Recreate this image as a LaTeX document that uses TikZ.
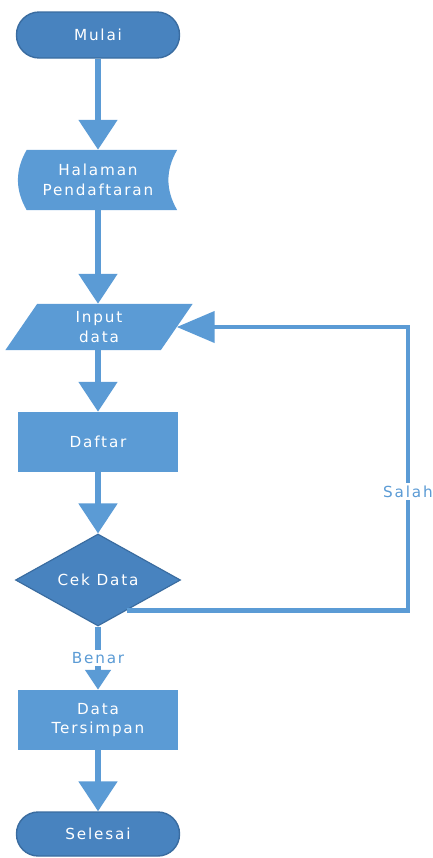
\documentclass[tikz,border=0pt]{standalone}
\usepackage{fontspec}
\newfontfamily\flowfont[LetterSpace=12]{DejaVu Sans}
\usetikzlibrary{arrows.meta,shapes.geometric,backgrounds}
\definecolor{biru}{RGB}{91,155,213}
\definecolor{birutua}{RGB}{72,131,191}
\definecolor{garis}{RGB}{58,108,160}
\tikzset{
  teks/.style={text=white,font=\flowfont\fontsize{13}{17}\selectfont,align=center},
  terminal/.style={teks,draw=garis,line width=1.2pt,fill=birutua,rounded corners=0.68cm,minimum width=4.89cm,minimum height=1.38cm},
  proses/.style={teks,fill=biru,minimum width=4.8cm,minimum height=1.8cm},
  keputusan/.style={teks,diamond,aspect=1.8,inner sep=0pt,draw=garis,line width=1pt,fill=birutua,minimum width=4.95cm,minimum height=2.76cm},
  panah/.style={draw=biru,line width=0.16cm,-{Triangle[width=1.14cm,length=0.9cm]}},
  panahkecil/.style={draw=biru,line width=0.16cm,-{Triangle[width=0.75cm,length=0.6cm]}},
  umpan/.style={draw=biru,line width=0.13cm,-{Triangle[width=0.93cm,length=1.14cm]}},
  ket/.style={fill=white,text=biru,font=\flowfont\fontsize{13}{17}\selectfont,inner sep=2pt}
}
\begin{document}
\begin{tikzpicture}[x=0.03cm,y=-0.03cm]
\useasboundingbox (0,0) rectangle (433,858);
\node[terminal] (mulai) at (98,35) {Mulai};
\node[teks,minimum width=4.74cm,minimum height=1.8cm] (hal) at (98,180) {Halaman\\Pendaftaran};
\node[teks,minimum width=4.65cm,minimum height=1.38cm] (inp) at (99,327) {Input\\data};
\node[proses] (daftar) at (98,442) {Daftar};
\node[keputusan] (cek) at (98,580) {Cek Data};
\node[proses] (simpan) at (98,720) {Data\\Tersimpan};
\node[terminal,minimum height=1.32cm,rounded corners=0.65cm] (selesai) at (98,834) {Selesai};
\coordinate (sudut) at (408,327);
\begin{scope}[on background layer]
\fill[biru] ([xshift=0.24cm]hal.north west) -- (hal.north east) to[bend right=30] (hal.south east)
  -- ([xshift=0.24cm]hal.south west) to[bend left=30] ([xshift=0.24cm]hal.north west) -- cycle;
\fill[biru] ([xshift=0.48cm]inp.north west) -- ([xshift=0.48cm]inp.north east)
  -- ([xshift=-0.48cm]inp.south east) -- ([xshift=-0.48cm]inp.south west) -- cycle;
\end{scope}
\draw[panah] (mulai) -- (hal);
\draw[panah] (hal) -- (hal |- inp.north);
\draw[panah] (inp.south -| daftar) -- (daftar);
\draw[panah] (daftar) -- (cek);
\draw[panahkecil] (cek) -- node[ket] {Benar} (simpan);
\draw[panah] (simpan) -- (selesai);
\draw[umpan] (cek.-47) -| node[ket,pos=0.71] {Salah} (sudut) -- (inp.east);
\end{tikzpicture}
\end{document}
